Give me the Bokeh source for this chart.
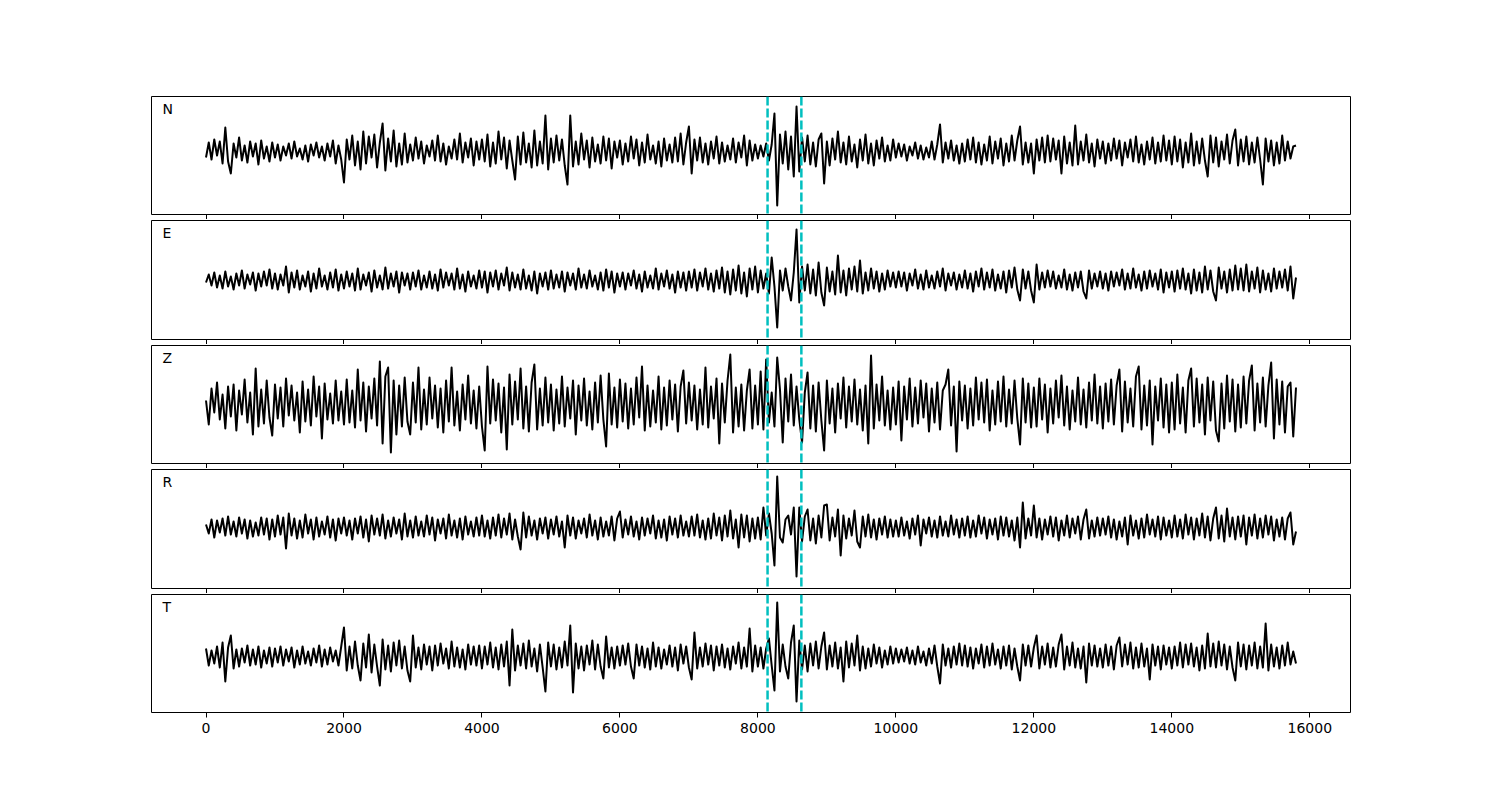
import numpy as np
from bokeh.plotting import figure
from bokeh.models import Span, Label, FixedTicker, Range1d
from bokeh.layouts import column
from bokeh.embed import file_html
from bokeh.resources import INLINE

# ---------------- data (display units) ----------------
time_start = 0
time_end = 15800
channel_names = ["N", "E", "Z", "R", "T"]
pick_times = [8140, 8630]
x_ticks = [0, 2000, 4000, 6000, 8000, 10000, 12000, 14000, 16000]

n_vals = [
    -6, 9, -8, 12, -4, 10, -12, 24, -10, -22, 8, -6, 14, -9, 6, -11, 10, -5, 8, -13, 11, -7, 5, -10, 9,
    -6, 7, -9, 5, -4, 8, -7, 10, -5, 3, -8, 6, -10, 7, -4, 9, -6, 5, -9, 8, -5, 11, -12, 6, -8,
    -31, 12, -8, 16, -14, 10, -18, 20, -12, 15, -6, 17, -16, 9, 28, -19, 13, -10, 21, -15, 8, -13, 18, -11, 7,
    -9, 14, -7, 10, -12, 6, -5, 11, -9, 16, -10, 8, -13, 5, -7, 12, -8, 18, -11, 9, -6, 13, -14, 10, -8,
    12, -10, 17, -15, 9, -12, 20, -8, 14, -17, 11, -9, -28, 15, -13, 19, -11, 8, -16, 21, -14, 10, -12, 36, -18,
    13, -11, 16, -9, 12, -14, -33, 36, -15, 10, -13, 18, -8, 11, -16, 14, -10, 7, -12, 15, -9, 13, -17, 10, -6,
    11, -13, 8, -10, 15, -7, 12, -14, 9, -11, 17, -8, 6, -12, 10, -15, 13, -9, 7, -11, 14, -10, 18, -13, 9,
    25, -22, 12, -9, 14, -11, 8, -13, 10, -7, 15, -12, 9, -10, 6, -8, 13, -11, 9, -6, 16, -14, 11, -9, 7,
    -7, 6, -5, 8, -9, 7, 38, -54, 17, -12, 20, -18, 15, -25, 45, -20, 14, -10, 16, -13, 9, -15, 12, 18, -32,
    10, -14, 13, -8, 20, -11, 9, -13, 15, -10, 7, -16, 12, -9, 17, -12, 8, -14, 11, -7, 14, -10, 6, -9, 12,
    -6, 8, -5, 7, -9, 5, -4, 9, -7, 6, -8, 4, -6, 10, -8, 7, 27, -11, 9, -7, 11, -9, 6, -12, 8,
    -10, 12, -8, 14, -11, 9, -13, 7, -9, 15, -12, 10, -7, 13, -14, 8, -10, 16, -9, 11, 25, -13, 9, -11, 8,
    -22, 12, -9, 14, -11, 16, -10, 13, -8, 11, -22, 15, -12, 9, -14, 26, -13, 10, -9, 17, -11, 8, -15, 12, -7,
    10, -12, 8, -9, 13, -7, 11, -14, 9, -6, 12, -10, 15, -11, 7, -13, 10, -8, 14, -12, 9, -10, 16, -9, 11,
    -13, 15, -10, 12, -16, 9, -11, 18, -14, 10, -12, 13, -9, -25, 16, -11, 14, -15, 10, -8, 17, -12, 11, 22, -14,
    12, -10, 15, -13, 9, -11, 14, -8, -33, 13, -10, 11, -14, 9, -12, 16, -9, 10, -7, 5, 6,
]

e_vals = [
    -2, 6, -5, 8, -7, 5, -8, 9, -6, 4, -9, 7, -5, 10, -8, 6, -4, 8, -10, 7, -6, 9, -5, 11, -8,
    7, -9, 6, -5, 14, -12, 8, -7, 10, -9, 5, -6, 9, -11, 7, -8, 12, -6, 5, -9, 8, -7, 11, -10, 6,
    -8, 9, -6, 7, -10, 12, -9, 6, -5, 8, -11, 10, -7, 5, -9, 13, -8, 7, -6, 9, -12, 8, -5, 7, -9,
    8, -6, 10, -9, 5, -7, 9, -8, 6, -10, 11, -7, 8, -5, 7, -9, 12, -8, 6, -11, 9, -6, 5, -8, 10,
    -7, 9, -12, 8, -6, 10, -9, 7, -5, 13, -10, 8, -7, 6, -9, 11, -8, 5, -10, 9, -13, 7, -6, 8, -9,
    10, -8, 6, -7, 9, -11, 8, -5, 7, -9, 12, -7, 6, -8, 10, -6, 5, -9, 8, -10, 11, -7, 9, -12, 7,
    -6, 8, -9, 7, -5, 10, -8, 6, -11, 9, -7, 5, -8, 12, -9, 7, -6, 10, -8, 6, -12, 9, -7, 8, -10,
    9, -7, 11, -10, 8, -6, 12, -9, 7, -11, 10, -8, 13, -12, 9, -14, 11, -10, 15, -13, 8, -16, 12, -9, 14,
    -12, 10, -8, 7, -13, 23, -6, -47, 10, -10, 12, -6, -20, 8, 51, -22, 14, -10, 16, -13, 11, -15, 18, -12, -25,
    13, -11, 9, -14, 25, -12, 10, -15, 12, -9, 14, -11, 20, -13, 8, -10, 12, -8, 9, -11, 7, -9, 10, -6, 8,
    -7, 9, -6, 8, -10, 7, -5, 11, -8, 6, -9, 10, -7, 5, -8, 9, -6, 12, -10, 7, -5, 8, -9, 6, -7,
    10, -8, 7, -11, 9, -6, 12, -9, 8, -7, 11, -10, 6, -8, 9, -12, 10, -7, 13, -9, -20, 11, -8, 9, -10,
    -22, 16, -9, 8, -7, 10, -6, 9, -8, 5, -7, 11, -9, 6, -10, 8, -7, 9, -11, -18, 10, -8, 7, -6, 9,
    -8, 7, -10, 9, -6, 8, -5, 11, -9, 7, -8, 12, -7, 6, -10, 9, -8, 10, -6, 7, -9, 11, -12, 8, -7,
    9, -11, 10, -8, 12, -9, 7, -13, 11, -10, 8, -12, 14, -9, 10, -11, -20, 13, -8, 9, -12, 11, -10, 15, -9,
    12, -10, 16, -11, 9, -8, 13, -12, 10, -9, 7, -11, 12, -8, 9, -7, 11, -10, 14, -18, 3,
]

z_vals = [
    4, -20, 16, -8, 22, -15, 10, -24, 18, -12, 20, -26, 14, -10, 25, -18, 12, -30, 36, -22, 15, -19, 24, -13, -31,
    20, -14, 17, -22, 26, -11, 19, -16, 12, -28, 23, -17, 15, -21, 28, -12, 18, -34, 21, -15, 11, -19, 24, -16, 13,
    -20, 25, -18, 14, -23, 35, -16, 22, -27, 18, -14, 26, -21, 43, -39, 28, 37, -48, 24, -30, 19, -22, 27, -17, -30,
    22, -18, 37, -25, 15, -20, 27, -14, 19, -23, 16, -28, 24, -17, 37, -21, 13, -26, 20, -15, 29, -19, 14, -24, 18,
    -22, -46, 38, -19, 25, -16, 21, -28, 17, -45, 30, -20, 23, -15, 36, -24, 18, -27, 22, 40, -25, 16, -21, 27, -18,
    20, -26, 15, -19, 28, -22, 17, -14, 24, -30, 19, -16, 26, -21, 13, -25, 22, -18, 29, -15, -42, 31, -20, 17, -23,
    25, -17, 21, -24, 16, -20, 27, -13, 38, -26, 19, -22, 14, -18, 28, -25, 17, -21, 24, -15, 20, -27, 18, 34, -19,
    22, -16, 19, -25, 15, -20, 37, -23, 18, -14, 26, -39, 21, -18, 24, 50, -28, 17, -22, 20, -26, 14, 35, -24, 19,
    -20, 33, -25, 45, -18, 12, -22, 47, 15, -38, 26, -17, 30, -21, 18, -15, -38, 12, 32, -24, 19, -27, 22, -16, -46,
    24, -19, 16, -28, 21, -14, 27, -23, 18, -17, 25, -20, 15, -26, 19, -39, 49, -24, 20, -16, 28, -21, 14, -25, 17,
    -20, 23, -36, 18, -15, 26, -22, 17, -19, 24, -13, 21, -27, 16, -18, 22, -25, 14, 20, 35, -21, 18, -47, 23, -16,
    19, -24, 16, -21, 27, -15, 22, -18, 25, -26, 14, -20, 23, -17, 28, -22, 15, -19, 24, -14, -40, 26, -18, 21, -23,
    17, -22, 26, -15, 20, -28, 16, -19, 24, -13, 29, -21, 18, -25, 14, -17, 27, -20, 15, -23, 22, -16, 30, -19, 18,
    -24, 21, -17, 25, -20, 19, 35, -27, 23, -18, 16, -22, 28, 38, -25, 19, -21, 24, -40, 18, -16, 26, -23, 20, -28,
    22, -25, 30, -19, 17, -28, 24, 36, -22, 26, -18, 20, -30, 27, -16, 23, -26, -37, 21, -24, 29, -17, 25, -27, 20,
    -23, 28, -19, 24, 39, -26, 21, -18, 27, -22, 19, 42, -34, 25, -20, 23, -28, 18, 22, -32, 17,
]

r_vals = [
    3, -6, 8, -10, 7, -5, 9, -8, 11, -7, 6, -9, 10, -6, 8, -11, 7, -9, 5, -8, 10, -7, 9, -12, 8,
    -9, 12, -7, 10, -21, 14, -8, 9, -11, 7, -10, 13, -6, 8, -12, 10, -9, 6, -7, 11, -10, 8, -13, 9, -6,
    10, -8, 7, -12, 9, -6, 11, -10, 8, -14, 12, -7, 9, -8, 13, -11, 7, -9, 10, -6, 8, -12, 14, -9, 7,
    -10, 11, -8, 6, -9, 12, -7, 10, -13, 8, -6, 9, -11, 13, -8, 7, -10, 9, -12, 11, -7, 6, -9, 10, -8,
    12, -9, 7, -11, 10, -8, 13, -10, 9, -7, 14, -12, 8, -9, -22, 15, -10, 11, -8, 7, -12, 9, -6, 10, -11,
    8, -7, 11, -9, 6, -20, 12, -8, 10, -11, 7, -6, 9, -10, 13, -8, 7, -12, 10, -9, 6, -8, 11, -13, 9,
    16, -10, 8, -7, 11, -9, 6, -12, 10, -8, 9, -6, 12, -11, 7, -10, 8, -13, 11, -7, 9, -10, 12, -8, 6,
    -9, 11, -8, 13, -10, 7, -12, 9, -11, 14, -8, 10, -13, 12, -9, 17, -11, 8, -20, 13, -10, 12, -14, 9, -11,
    10, -12, 20, -8, 14, -6, -38, 51, -10, -15, 8, 12, -7, 20, -49, 20, -14, 11, 18, -13, 9, -16, 12, -10, 22,
    23, -13, 10, -9, 18, -28, 12, -11, 9, -8, 17, -14, -20, 11, -9, 13, -10, 8, -12, 9, -7, 11, -10, 8, -9,
    7, -9, 10, -8, 6, -11, 9, -7, 12, -18, 8, -6, 10, -9, 7, -10, 11, -8, 6, -9, 12, -7, 8, -10, 9,
    -8, 11, -10, 7, -9, 12, -6, 10, -11, 8, -7, 9, -12, 11, -8, 10, -9, 7, -13, 10, -20, 25, -11, 9, -8,
    22, -10, 9, -12, 8, -7, 11, -9, 10, -13, 7, -8, 12, -10, 9, -6, 11, -12, 8, 18, -11, 7, -9, 10, -8,
    9, -7, 11, -10, 8, -12, 6, -9, 10, -17, 12, -8, 7, -11, 9, -10, 13, -7, 8, -9, 11, -12, 10, -8, 7,
    -10, 12, -9, 8, -11, 13, -7, 10, -12, 9, -8, 14, -10, 11, -13, 9, 20, -11, 12, -14, 19, -9, 10, -12, 11,
    -9, 12, -17, 10, -8, 13, -11, 9, -10, 12, -7, 11, -13, 8, -9, 10, -12, 9, 15, -17, -4,
]

t_vals = [
    8, -9, 6, -7, 10, -11, 14, -25, 9, 21, -12, 7, -10, 8, -6, 11, -9, 7, -8, 10, -11, 6, -7, 9, -10,
    8, -6, 10, -9, 7, -5, 9, -11, 6, -8, 10, -7, 5, -9, 8, -6, 11, -10, 7, -8, 9, -5, 6, -9, 10,
    29, -14, 10, -12, 15, -9, -24, 13, -11, 22, -16, 12, -10, -29, 17, -13, 11, -15, 14, -9, 16, -12, 10, -14, -25,
    21, -11, 9, -13, 12, -8, 10, -14, 11, -9, 13, -7, 8, -12, 15, -10, 9, -11, 7, -13, 12, -8, 10, -9, 11,
    -12, 10, -8, 14, -11, 9, -13, 12, -10, 15, -29, 27, -14, 11, -9, 13, -12, 16, -10, 8, -15, 12, -11, -35, 14,
    -10, 12, -13, 9, -11, 15, -9, 31, -36, 13, -12, 10, -14, 11, -8, 16, -13, 12, -10, -22, 20, -11, 9, -12, 10,
    -9, 11, -8, 13, -10, -22, 12, -9, 10, -11, 8, -13, 14, -10, 9, -12, 7, -8, 11, -10, 9, -14, 12, -7, 10,
    -11, -23, 24, -12, 9, -10, 13, -8, 11, -14, 10, -9, 12, -11, 8, -13, 10, -7, 14, -12, 9, -10, 28, -15, 11,
    -10, 9, -12, 8, 18, -9, -34, 54, -15, 12, -10, -22, 14, 31, -45, 16, -13, 11, -15, 13, -9, 15, -12, 10, 24,
    -13, 11, -10, 14, -12, 9, -25, 15, -11, 13, -9, 21, -14, 10, -12, 8, -10, 12, -7, 9, -11, 6, -8, 10, -7,
    8, -6, 7, -5, 9, -7, 6, -8, 10, -6, 5, -9, 8, -7, 11, -10, -27, 12, -9, 8, -11, 10, -8, 13, -9,
    11, -10, 9, -12, 8, -7, 12, -11, 10, -9, 13, -8, 7, -12, 10, -9, 11, -13, 8, -10, -24, 12, -9, 11, -10,
    9, 21, -12, 10, -8, 13, -11, 9, -10, 12, 22, -13, 10, -9, 14, -11, 8, -12, 10, -26, 13, -9, 11, -10, 8,
    -11, 12, -9, 10, -13, 11, 19, -10, 12, -8, 14, -12, 9, -11, 13, -10, 8, -23, 12, -9, 10, -13, 11, -8, 9,
    -12, 10, -9, 14, -11, 12, -8, 13, -10, 9, -14, 11, -12, 23, -10, 13, -11, 15, -9, 12, -13, 10, -11, -24, 14,
    -10, 12, -13, 11, -9, 14, -12, 10, -11, 33, -14, 12, -10, 9, -12, 11, -9, 14, -8, 5, -7,
]

traces = [n_vals, e_vals, z_vals, r_vals, t_vals]

# ---------------- layout (screen) ----------------
y_limits = [(-63, 55), (-59, 60), (-59, 59), (-61, 58), (-56, 62)]
frame_heights = [118, 119, 118, 119, 118]
tops = [96, 1, 1, 1, 1]
bottoms = [5, 5, 5, 5, 80]

x_range = Range1d(-790, 16590)
figs = []
for k, vals in enumerate(traces):
    lo, hi = y_limits[k]
    h = frame_heights[k] + tops[k] + bottoms[k]
    p = figure(width=1360, height=h, x_range=x_range, y_range=Range1d(lo, hi),
               output_backend="svg", toolbar_location=None, y_axis_type=None,
               min_border_left=151, min_border_right=10,
               min_border_top=tops[k], min_border_bottom=bottoms[k])
    p.outline_line_color = "black"
    p.outline_line_width = 1
    p.grid.visible = False
    p.background_fill_color = "white"
    p.border_fill_color = "white"

    xs = np.linspace(time_start, time_end, len(vals))
    p.line(xs, np.array(vals, dtype=float), line_color="black", line_width=2, line_join="round")

    for t in pick_times:
        p.add_layout(Span(location=t, dimension="height", line_color="#00bfbf",
                          line_width=2.5, line_dash="9 3"))

    p.add_layout(Label(x=11, y=frame_heights[k] - 4, x_units="screen", y_units="screen",
                       text=channel_names[k], text_baseline="top", text_align="left",
                       text_font="DejaVu Sans", text_font_size="14px", text_color="black"))

    ax = p.xaxis[0]
    ax.ticker = FixedTicker(ticks=x_ticks)
    ax.axis_line_color = None
    ax.major_tick_line_color = "black"
    ax.major_tick_line_width = 1
    ax.major_tick_out = 5
    ax.major_tick_in = 0
    ax.minor_tick_line_color = None
    if k < len(traces) - 1:
        ax.major_label_text_font_size = "0px"
        ax.major_label_text_color = None
        ax.major_label_standoff = 0
    else:
        ax.major_label_text_font = "DejaVu Sans"
        ax.major_label_text_font_size = "14px"
        ax.major_label_text_color = "black"
        ax.major_label_standoff = 5
    figs.append(p)

layout = column(*figs, spacing=0)
open("out.html", "w").write(file_html(layout, INLINE))
